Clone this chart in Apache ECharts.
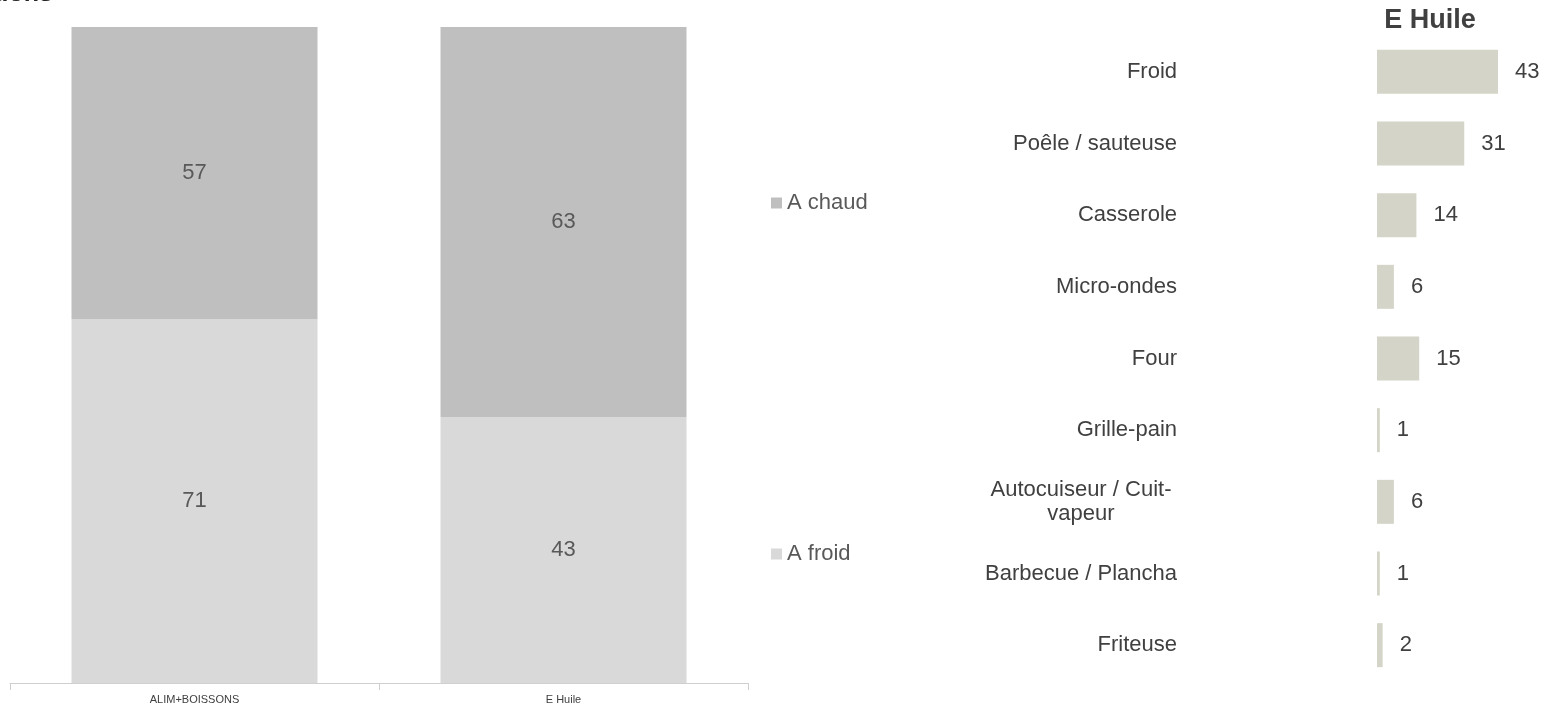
<!DOCTYPE html>
<html>
<head>
<meta charset="utf-8">
<script src="https://cdn.jsdelivr.net/npm/echarts@6/dist/echarts.min.js"></script>
<style>html,body{margin:0;padding:0;background:#fff;}#c{width:1544px;height:709px;}</style>
</head>
<body>
<div id="c"></div>
<script>
var leftCategories = ['ALIM+BOISSONS', 'E Huile'];
var froidValues = [71, 43];
var chaudValues = [57, 63];
var seriesNames = ['A froid', 'A chaud'];

var rightTitle = 'E Huile';
var rightCategories = ['Froid', 'Poêle / sauteuse', 'Casserole', 'Micro-ondes', 'Four', 'Grille-pain', 'Autocuiseur / Cuit-vapeur', 'Barbecue / Plancha', 'Friteuse'];
var rightValues = [43, 31, 14, 6, 15, 1, 6, 1, 2];

var FONT = 'Liberation Sans, Arial, sans-serif';

function share(a, b) { return a.map(function (v, i) { return v / (a[i] + b[i]) * 100; }); }
var froidPct = share(froidValues, chaudValues);
var chaudPct = share(chaudValues, froidValues);

var chart = echarts.init(document.getElementById('c'), null, {renderer: 'canvas'});
chart.setOption({
  animation: false,
  backgroundColor: '#ffffff',
  textStyle: {fontFamily: FONT},
  graphic: [
    {type: 'text', x: 53, y: 7, style: {text: 'Préparations', fill: '#262626', font: 'bold 25px ' + FONT, textAlign: 'right', textVerticalAlign: 'bottom'}},
    {type: 'text', x: 1430, y: 21, style: {text: rightTitle, fill: '#404040', font: 'bold 27px ' + FONT, textAlign: 'center', textVerticalAlign: 'middle'}}
  ],
  legend: {
    orient: 'vertical', left: 766, top: 187, itemWidth: 11, itemHeight: 11, itemGap: 329,
    icon: 'rect',
    data: ['A chaud', 'A froid'],
    textStyle: {color: '#595959', fontSize: 22, fontFamily: FONT, padding: [0, 0, 0, 0]},
    itemStyle: {borderWidth: 0}
  },
  grid: [
    {left: 10, width: 738, top: 27, bottom: 26},
    {left: 1377, width: 140.7, top: 36, bottom: 28}
  ],
  xAxis: [
    {type: 'category', gridIndex: 0, data: leftCategories,
     axisLine: {lineStyle: {color: '#cfcfcf'}},
     axisTick: {show: true, alignWithLabel: false, length: 7, lineStyle: {color: '#cfcfcf'}},
     axisLabel: {color: '#404040', fontSize: 11, margin: 11, fontFamily: FONT}},
    {type: 'value', gridIndex: 1, min: 0, max: 50, show: false}
  ],
  yAxis: [
    {type: 'value', gridIndex: 0, min: 0, max: 100, show: false},
    {type: 'category', gridIndex: 1, inverse: true, data: rightCategories,
     axisLine: {show: false}, axisTick: {show: false}, splitLine: {show: false},
     axisLabel: {color: '#404040', fontSize: 22, margin: 200, fontFamily: FONT, align: 'right',
       formatter: function (v) {
         if (v.indexOf('Cuit-') >= 0) { return '{c|Autocuiseur / Cuit-}\n{c|vapeur}'; }
         return v;
       },
       rich: {c: {width: 192, align: 'center', fontSize: 22, color: '#404040', fontFamily: FONT, lineHeight: 24}}
     }}
  ],
  series: [
    {name: seriesNames[0], type: 'bar', stack: 'l', xAxisIndex: 0, yAxisIndex: 0, barWidth: 246,
     data: froidPct, itemStyle: {color: '#d9d9d9'},
     label: {show: true, position: 'inside', color: '#595959', fontSize: 22, fontFamily: FONT,
       formatter: function (p) { return froidValues[p.dataIndex]; }}},
    {name: seriesNames[1], type: 'bar', stack: 'l', xAxisIndex: 0, yAxisIndex: 0, barWidth: 246,
     data: chaudPct, itemStyle: {color: '#bfbfbf'},
     label: {show: true, position: 'inside', color: '#595959', fontSize: 22, fontFamily: FONT,
       formatter: function (p) { return chaudValues[p.dataIndex]; }}},
    {name: rightTitle, type: 'bar', xAxisIndex: 1, yAxisIndex: 1, barWidth: 44,
     data: rightValues, itemStyle: {color: '#d4d4c8'},
     label: {show: true, position: 'right', distance: 17, color: '#404040', fontSize: 22, fontFamily: FONT}}
  ]
});
</script>
</body>
</html>
